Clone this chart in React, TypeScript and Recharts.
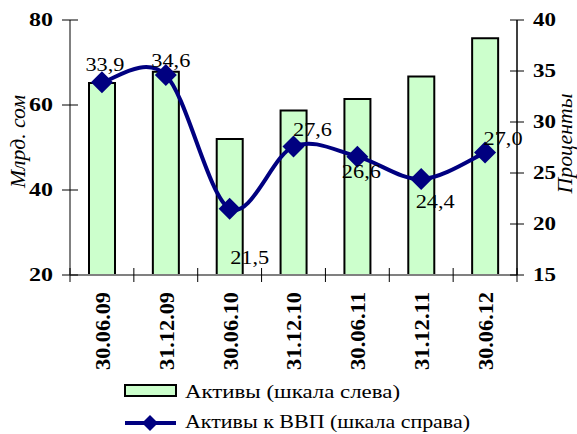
import React from "react";
import { ComposedChart, Bar, Line, XAxis, YAxis, Legend, LabelList } from "recharts";

const categories = ["30.06.09", "31.12.09", "30.06.10", "31.12.10", "30.06.11", "31.12.11", "30.06.12"];
const assets = [65.2, 67.8, 52.0, 58.7, 61.4, 66.7, 75.7];
const assetsToGdp = [33.9, 34.6, 21.5, 27.6, 26.6, 24.4, 27.0];
const leftTicks = [20, 40, 60, 80];
const rightTicks = [15, 20, 25, 30, 35, 40];

const data = categories.map((c, i) => ({ name: c, assets: assets[i], ratio: assetsToGdp[i] }));

const FONT = "Liberation Serif, Times New Roman, serif";
const NAVY = "#000080";
const GREEN = "#CCFFCC";

// label offsets (dx to label centre, dy to baseline) relative to each point
const labelOffsets = [
  [3, -11],
  [5, -8],
  [20, 55],
  [19, -10],
  [4, 21],
  [14, 29],
  [18, -8],
];

// Excel-like smoothing (Catmull-Rom, tension 1/6)
const excelCurve: any = (context: any) => {
  let pts: number[][] = [];
  return {
    areaStart() {},
    areaEnd() {},
    lineStart() {
      pts = [];
    },
    point(x: number, y: number) {
      pts.push([+x, +y]);
    },
    lineEnd() {
      if (!pts.length) return;
      context.moveTo(pts[0][0], pts[0][1]);
      for (let i = 0; i < pts.length - 1; i++) {
        const p0 = pts[i - 1] || pts[i];
        const p1 = pts[i];
        const p2 = pts[i + 1];
        const p3 = pts[i + 2] || pts[i + 1];
        const c1x = p1[0] + (p2[0] - p0[0]) / 6;
        const c1y = p1[1] + (p2[1] - p0[1]) / 6;
        const c2x = p2[0] - (p3[0] - p1[0]) / 6;
        const c2y = p2[1] - (p3[1] - p1[1]) / 6;
        context.bezierCurveTo(c1x, c1y, c2x, c2y, p2[0], p2[1]);
      }
    },
  };
};

const XTick = (props: any) => {
  const { x, y, payload, index, visibleTicksCount } = props;
  const off = payload && payload.offset ? payload.offset : 32;
  const axisY = y - 17;
  return (
    <g>
      <line x1={x - off} x2={x - off} y1={axisY - 7} y2={axisY + 7} stroke="#000" strokeWidth={1} />
      {index === visibleTicksCount - 1 && (
        <line x1={x + off} x2={x + off} y1={axisY - 7} y2={axisY + 7} stroke="#000" strokeWidth={1} />
      )}
      <text
        x={x}
        y={y}
        transform={`rotate(-90, ${x}, ${y})`}
        textAnchor="end"
        dy="0.36em"
        fontFamily={FONT}
        fontWeight="bold"
        fontSize={22}
        fill="#000"
        textLength={78}
        lengthAdjust="spacingAndGlyphs"
      >
        {payload.value}
      </text>
    </g>
  );
};

const LeftTick = (props: any) => {
  const { x, y, payload } = props;
  return (
    <g>
      <line x1={x + 9} x2={x + 25} y1={y} y2={y} stroke="#000" strokeWidth={1} />
      <text x={x} y={y} dy="0.36em" textAnchor="end" fontFamily={FONT} fontWeight="bold" fontSize={18} fill="#000" textLength={24} lengthAdjust="spacingAndGlyphs">
        {payload.value}
      </text>
    </g>
  );
};

const RightTick = (props: any) => {
  const { x, y, payload } = props;
  return (
    <g>
      <line x1={x - 23} x2={x - 9} y1={y} y2={y} stroke="#000" strokeWidth={1} />
      <text x={x} y={y} dy="0.36em" textAnchor="start" fontFamily={FONT} fontWeight="bold" fontSize={18} fill="#000" textLength={23} lengthAdjust="spacingAndGlyphs">
        {payload.value}
      </text>
    </g>
  );
};

const Diamond = (props: any) => {
  const { cx, cy } = props;
  if (cx == null || cy == null) return null;
  const r = 11;
  return <path d={`M${cx},${cy - r}L${cx + r},${cy}L${cx},${cy + r}L${cx - r},${cy}Z`} fill={NAVY} stroke="none" />;
};

const PointLabel = (props: any) => {
  const { x, y, value, index } = props;
  const [dx, dy] = labelOffsets[index] || [0, -10];
  return (
    <text x={x + dx} y={y + dy} textAnchor="middle" fontFamily={FONT} fontSize={18.5} fill="#000" textLength={39} lengthAdjust="spacingAndGlyphs">
      {Number(value).toFixed(1).replace(".", ",")}
    </text>
  );
};

const LeftTitle = (props: any) => {
  const vb = props.viewBox || { x: 10, y: 20, width: 60, height: 255 };
  const x = vb.x + 15;
  const y = vb.y + vb.height / 2 - 6;
  return (
    <text x={x} y={y} transform={`rotate(-90, ${x}, ${y})`} textAnchor="middle" fontFamily={FONT} fontStyle="italic" fontSize={20} fill="#000" textLength={93} lengthAdjust="spacingAndGlyphs">
      Млрд. сом
    </text>
  );
};

const RightTitle = (props: any) => {
  const vb = props.viewBox || { x: 517, y: 20, width: 60, height: 255 };
  const x = vb.x + 55;
  const y = vb.y + vb.height / 2 - 4;
  return (
    <text x={x} y={y} transform={`rotate(-90, ${x}, ${y})`} textAnchor="middle" fontFamily={FONT} fontStyle="italic" fontSize={20} fill="#000" textLength={100} lengthAdjust="spacingAndGlyphs">
      Проценты
    </text>
  );
};

const LegendContent = () => (
  <div style={{ width: 577, height: 59 }}>
    <svg width={577} height={59} style={{ display: "block", overflow: "visible" }}>
      <rect x={125} y={10} width={51} height={11} fill={GREEN} stroke="#000" strokeWidth={2} />
      <text x={185} y={23} fontFamily={FONT} fontSize={19} fill="#000" textLength={215} lengthAdjust="spacingAndGlyphs">
        Активы (шкала слева)
      </text>
      <line x1={125} x2={176} y1={48} y2={48} stroke={NAVY} strokeWidth={4} />
      <path d="M150,40L158,48L150,56L142,48Z" fill={NAVY} />
      <text x={185} y={53} fontFamily={FONT} fontSize={19} fill="#000" textLength={285} lengthAdjust="spacingAndGlyphs">
        Активы к ВВП (шкала справа)
      </text>
    </svg>
  </div>
);

export default function App() {
  return (
    <div style={{ position: "absolute", left: 0, top: 0, width: 577, height: 434, background: "#fff" }}>
      <ComposedChart width={577} height={434} data={data} margin={{ top: 20, right: 0, left: 10, bottom: 0 }}>
        <XAxis
          dataKey="name"
          height={100}
          tickSize={7}
          tickMargin={10}
          tickLine={false}
          axisLine={{ stroke: "#808080", strokeWidth: 2 }}
          tick={<XTick />}
          interval={0}
        />
        <YAxis
          yAxisId="left"
          orientation="left"
          width={60}
          domain={[20, 80]}
          ticks={leftTicks}
          tickSize={8}
          tickMargin={9}
          tickLine={false}
          axisLine={{ stroke: "#808080", strokeWidth: 2 }}
          tick={<LeftTick />}
          label={<LeftTitle />}
        />
        <YAxis
          yAxisId="right"
          orientation="right"
          width={60}
          domain={[15, 40]}
          ticks={rightTicks}
          tickSize={7}
          tickMargin={9}
          tickLine={false}
          axisLine={{ stroke: "#000", strokeWidth: 1.5 }}
          tick={<RightTick />}
          label={<RightTitle />}
        />
        <Legend
          verticalAlign="bottom"
          layout="horizontal"
          content={<LegendContent />}
          wrapperStyle={{ left: 0, width: 577, height: 59 }}
        />
        <Bar
          yAxisId="left"
          dataKey="assets"
          name="Активы (шкала слева)"
          fill={GREEN}
          stroke="#000"
          strokeWidth={2}
          barSize={26}
          isAnimationActive={false}
        />
        <Line
          yAxisId="right"
          dataKey="ratio"
          name="Активы к ВВП (шкала справа)"
          type={excelCurve}
          stroke={NAVY}
          strokeWidth={4}
          dot={<Diamond />}
          activeDot={false}
          isAnimationActive={false}
        >
          <LabelList dataKey="ratio" content={<PointLabel />} />
        </Line>
      </ComposedChart>
    </div>
  );
}
